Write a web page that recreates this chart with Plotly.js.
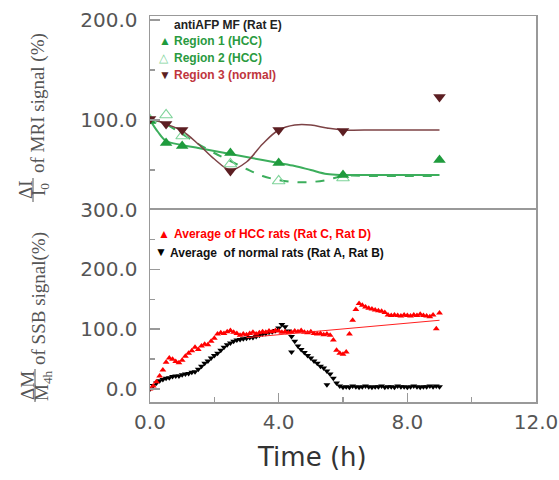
<!DOCTYPE html>
<html><head><meta charset="utf-8">
<script src="https://cdn.plot.ly/plotly-3.0.1.min.js"></script>
<style>html,body{margin:0;padding:0;background:#fff}#c{width:559px;height:480px}</style>
</head><body><div id="c"></div>
<script>
// ---- Top panel (MRI, Rat E) ----
const mriTimes = [0, 0.5, 1, 2.5, 4, 6, 9];
const region1 = [99, 77, 74, 67, 57, 45, 60];
const region2Times = [0, 0.5, 1, 2.5, 4, 6];
const region2 = [100, 105, 84, 56, 39, 42];
const region3 = [101, 96, 90, 49, 90, 89, 123];

const fitTimes = [0, 0.25, 0.5, 1, 1.5, 2, 2.5, 3, 3.5, 4, 4.5, 5, 5.5, 6, 7, 8, 9];
const region1Fit = [100, 88, 79, 75, 72, 69, 66, 63, 60, 57, 54, 50, 46, 45, 45, 45, 45];
const region2Fit = [100, 99, 96, 86, 76, 67, 59, 51, 44, 40, 38, 38, 40, 44, 44, 44, 44];
const region3Fit = [101, 99, 96, 89, 76, 61, 50, 58, 76, 90, 95, 95, 92, 90, 90, 90, 90];

// ---- Bottom panel (SSB) ----
const ssbTimes = [0.0,0.1,0.2,0.3,0.4,0.5,0.6,0.7,0.8,0.9,1.0,1.1,1.2,1.3,1.4,1.5,1.6,1.7,1.8,1.9,
  2.0,2.1,2.2,2.3,2.4,2.5,2.6,2.7,2.8,2.9,3.0,3.1,3.2,3.3,3.4,3.5,3.6,3.7,3.8,3.9,
  4.0,4.1,4.2,4.3,4.4,4.5,4.6,4.7,4.8,4.9,5.0,5.1,5.2,5.3,5.4,5.5,5.6,5.7,5.8,5.9,
  6.0,6.1,6.2,6.3,6.4,6.5,6.6,6.7,6.8,6.9,7.0,7.1,7.2,7.3,7.4,7.5,7.6,7.7,7.8,7.9,
  8.0,8.1,8.2,8.3,8.4,8.5,8.6,8.7,8.8,8.9,9.0];
const hccAvg = [0,5,12,22,32,45,52,50,46,44,48,55,60,64,70,66,72,75,74,80,
  85,92,94,93,96,98,95,93,90,92,91,93,95,92,94,96,95,97,96,98,
  97,95,96,94,95,97,96,98,95,94,96,93,92,93,91,92,90,82,65,60,
  58,62,92,115,133,143,140,137,135,134,132,131,130,128,124,123,124,123,122,124,
  123,122,124,123,125,123,122,121,124,101,127];
const normalAvg = [0,6,10,14,16,18,19,21,22,22,24,25,26,28,29,33,38,43,47,52,
  56,60,65,70,74,77,80,82,83,84,85,86,86,88,90,92,93,95,96,98,
  102,108,104,97,88,80,72,66,61,56,52,47,43,38,35,30,25,18,10,5,
  3,4,3,5,4,3,4,5,4,3,4,4,5,3,4,4,3,5,4,4,
  3,4,5,4,3,4,4,5,4,5,4];
const normalOutTimes = [4.4, 5.5];
const normalOut = [62, 7];
const hccFitTimes = [3.0, 9.0];
const hccFit = [86, 115];

// ---- tick labels ----
const xTickVals = [0, 4, 8, 12];
const xTickText = ['0.0', '4.0', '8.0', '12.0'];
const yTopVals = [100, 200];
const yTopText = ['100.0', '200.0'];
const yBotVals = [0, 100, 200, 300];
const yBotText = ['0.0', '100.0', '200.0', '300.0'];

// pixel helpers for paper positions
const L = 150, PW = 386, B = 402, PH = 386;
const px = v => (v - L) / PW;
const py = v => (B - v) / PH;

const green = '#1f9b3d', greenLine = '#3cae5c', lightGreen = '#7fd49a';
const brown = '#5c1e22', brownLine = '#7d4346';

const traces = [
  {x: fitTimes, y: region1Fit, xaxis:'x2', yaxis:'y2', mode:'lines', line:{color:greenLine, width:2, shape:'spline'}},
  {x: fitTimes, y: region2Fit, xaxis:'x2', yaxis:'y2', mode:'lines', line:{color:greenLine, width:2, dash:'dash', shape:'spline'}},
  {x: fitTimes, y: region3Fit, xaxis:'x2', yaxis:'y2', mode:'lines', line:{color:brownLine, width:1.5, shape:'spline'}},
  {x: region2Times, y: region2, xaxis:'x2', yaxis:'y2', mode:'markers', marker:{symbol:'triangle-up-open', size:11, color:lightGreen, line:{width:1.2}}},
  {x: mriTimes, y: region1, xaxis:'x2', yaxis:'y2', mode:'markers', marker:{symbol:'triangle-up', size:11, color:green}},
  {x: mriTimes, y: region3, xaxis:'x2', yaxis:'y2', mode:'markers', marker:{symbol:'triangle-down', size:11, color:brown}},
  {x: ssbTimes, y: normalAvg, mode:'markers', marker:{symbol:'triangle-down', size:6, color:'#000'}},
  {x: normalOutTimes, y: normalOut, mode:'markers', marker:{symbol:'triangle-down', size:6, color:'#000'}},
  {x: ssbTimes, y: hccAvg, mode:'markers', marker:{symbol:'triangle-up', size:6, color:'#ff0000'}},
  {x: hccFitTimes, y: hccFit, mode:'lines', line:{color:'#ff2020', width:1}}
];

const tickFont = {family:'DejaVu Sans', size:20, color:'#555'};
const axLine = {showline:true, linecolor:'#999', linewidth:1.5, mirror:true, showgrid:false, zeroline:false};

const layout = {
  width:559, height:480, margin:{l:150, r:23, t:16, b:78},
  paper_bgcolor:'#fff', plot_bgcolor:'#fff', showlegend:false,
  xaxis: Object.assign({anchor:'y', domain:[0,1], range:[0,12], tickmode:'array', tickvals:xTickVals, ticktext:xTickText,
    ticks:'inside', ticklen:9, tickwidth:1.5, tickcolor:'#999', tickfont:tickFont, ticklabelstandoff:1,
    minor:{tickmode:'array', tickvals:[2,6,10], ticks:'inside', ticklen:5, tickwidth:1.5, tickcolor:'#999'}}, axLine),
  yaxis: Object.assign({anchor:'x', domain:[0, py(209.5)], range:[-21.7, 300.3], tickmode:'array', tickvals:yBotVals, ticktext:yBotText,
    ticks:'inside', ticklen:10, tickwidth:1.5, tickcolor:'#999', tickfont:tickFont, ticklabelstandoff:7,
    minor:{tickmode:'array', tickvals:[50,150,250], ticks:'inside', ticklen:5, tickwidth:1.5, tickcolor:'#999'}}, axLine),
  xaxis2: Object.assign({anchor:'y2', domain:[0,1], range:[0,12], showticklabels:false, ticks:''}, axLine),
  yaxis2: Object.assign({anchor:'x2', domain:[py(208), 1], range:[12, 204], tickmode:'array', tickvals:yTopVals, ticktext:yTopText,
    ticks:'inside', ticklen:10, tickwidth:1.5, tickcolor:'#999', tickfont:tickFont, ticklabelstandoff:7,
    minor:{tickmode:'array', tickvals:[50,150], ticks:'inside', ticklen:5, tickwidth:1.5, tickcolor:'#999'}}, axLine),
  annotations: [],
  shapes: []
};

function ann(text, x, y, opts) {
  layout.annotations.push(Object.assign({text:text, xref:'paper', yref:'paper', x:px(x), y:py(y),
    showarrow:false, xanchor:'left', yanchor:'middle', font:{family:'Liberation Sans, Arial', size:12, color:'#000'}}, opts||{}));
}
const lf = (c, s) => ({family:'Liberation Sans, Arial', size:s||12, color:c});

// top legend
ann('<b>antiAFP MF (Rat E)</b>', 172, 25, {font:lf('#222', 12)});
ann('▲', 157, 41, {font:lf(green, 12)});
ann('<b>Region 1 (HCC)</b>', 172, 41, {font:lf('#2a9a40', 12)});
ann('△', 157, 58, {font:lf(lightGreen, 12)});
ann('<b>Region 2 (HCC)</b>', 172, 58, {font:lf('#2a9a40', 12)});
ann('▼', 157, 75, {font:lf(brown, 12)});
ann('<b>Region 3 (normal)</b>', 172, 75, {font:lf('#c0353d', 12)});
// bottom legend
ann('▲', 156, 234, {font:lf('#ff0000', 12)});
ann('<b>Average of HCC rats (Rat C, Rat D)</b>', 172, 234, {font:lf('#ff0000', 12)});
ann('▼', 153, 252, {font:lf('#000', 12)});
ann('<b>Average  of normal rats (Rat A, Rat B)</b>', 168, 253, {font:lf('#111', 12)});

// x title
ann('Time (h)', 312, 457, {xanchor:'center', font:{family:'DejaVu Sans', size:26, color:'#333'}});

// y titles (serif, rotated)
const sf = {family:'Liberation Serif, Times New Roman', size:19, color:'#555'};
const rot = {textangle:-90, xanchor:'center', yanchor:'middle', font:sf};
ann('of MRI signal (%)', 38, 103, rot);
ann('ΔI', 25, 190, rot);
ann('I<sub>0</sub>', 40, 190, rot);
ann('of SSB signal(%)', 39, 298, rot);
ann('ΔM', 27, 385, rot);
ann('M<sub>4h</sub>', 43, 386, rot);
layout.shapes.push({type:'line', xref:'paper', yref:'paper', x0:px(33), x1:px(33), y0:py(178), y1:py(202), line:{color:'#555', width:1}});
layout.shapes.push({type:'line', xref:'paper', yref:'paper', x0:px(35), x1:px(35), y0:py(369), y1:py(402), line:{color:'#555', width:1}});

Plotly.newPlot('c', traces, layout, {staticPlot:true, displayModeBar:false});
</script></body></html>
